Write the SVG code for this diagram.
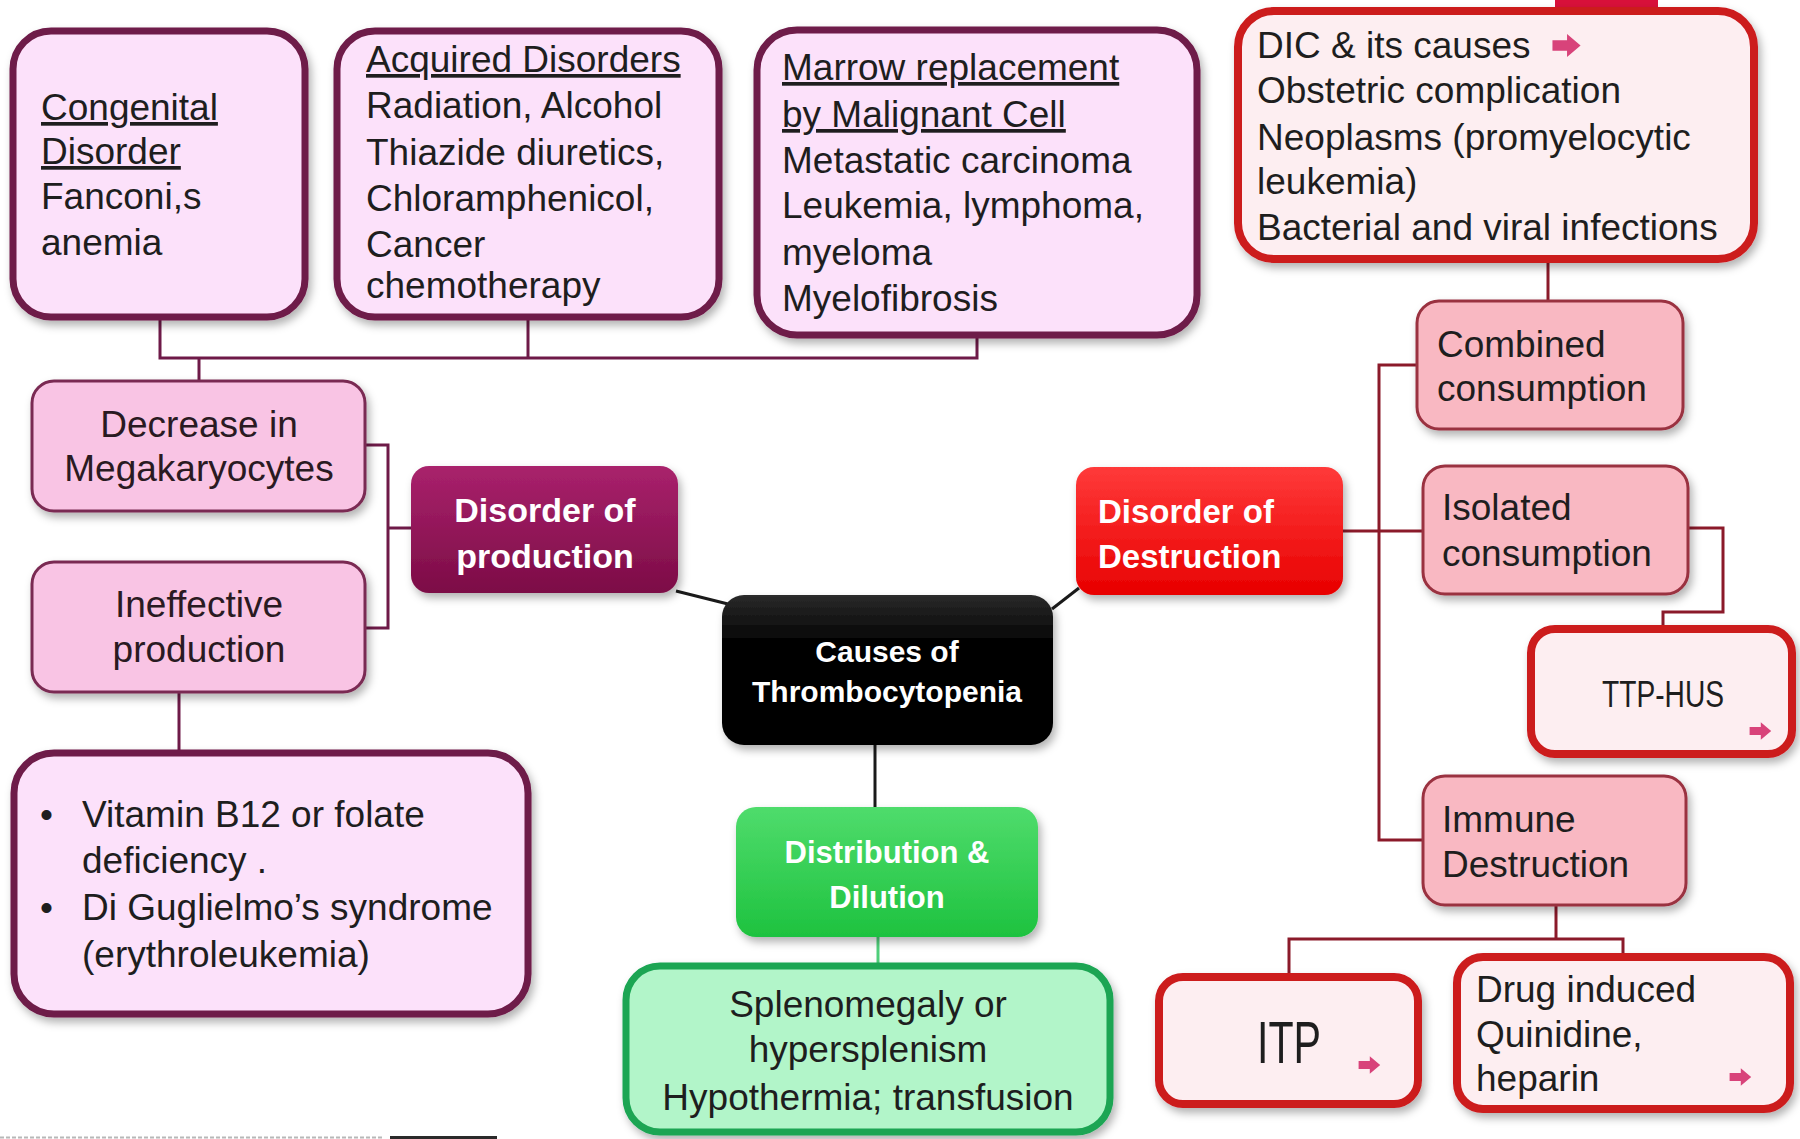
<svg xmlns="http://www.w3.org/2000/svg" width="1800" height="1139" viewBox="0 0 1800 1139">
<defs>
<style>
text{font-family:"Liberation Sans",Arial,sans-serif;}
.t{font-size:37px;fill:#1e1e1e;}
.tc{font-size:37px;fill:#2a1a22;text-anchor:middle;}
.u{text-decoration:underline;}
.w{font-weight:bold;fill:#ffffff;}
.pur{fill:#fce1fa;stroke:#6e1a48;stroke-width:7;}
.pink{fill:#f9c4e4;stroke:#7a2a52;stroke-width:3;}
.rose{fill:#f9b8c2;stroke:#9a3040;stroke-width:3;}
.red{fill:#fdeef1;stroke:#cc1a1e;stroke-width:8;}
.grn{fill:#b2f5c9;stroke:#1aa553;stroke-width:7;}
.cp{fill:none;stroke:#6e1a48;stroke-width:3;}
.cr{fill:none;stroke:#8b1a2a;stroke-width:3;}
.ck{fill:none;stroke:#1a1a1a;stroke-width:3;}
</style>
<linearGradient id="gProd" x1="0" y1="0" x2="0" y2="1"><stop offset="0" stop-color="#a9226c"/><stop offset="1" stop-color="#7c0c46"/></linearGradient>
<linearGradient id="gDest" x1="0" y1="0" x2="0" y2="1"><stop offset="0" stop-color="#ff3a3a"/><stop offset="1" stop-color="#e80000"/></linearGradient>
<linearGradient id="gDist" x1="0" y1="0" x2="0" y2="1"><stop offset="0" stop-color="#4fdc6c"/><stop offset="1" stop-color="#1ec23f"/></linearGradient>
<linearGradient id="gCause" x1="0" y1="0" x2="0" y2="1"><stop offset="0" stop-color="#2a2a2a"/><stop offset="0.3" stop-color="#050505"/><stop offset="1" stop-color="#000000"/></linearGradient>
<filter id="sh" x="-10%" y="-10%" width="125%" height="130%"><feDropShadow dx="3" dy="5" stdDeviation="4" flood-color="#000" flood-opacity="0.3"/></filter>
<symbol id="arr" viewBox="0 0 30 24"><path d="M2 7 H16 V1 L29 12 L16 23 V17 H2 Z" fill="#d8437a"/></symbol>
</defs>
<rect width="1800" height="1139" fill="#ffffff"/>

<g id="connectors">
<path class="cp" d="M160 318 V358 H977 V338"/>
<path class="cp" d="M528 318 V358"/>
<path class="cp" d="M199 358 V381"/>
<path class="cp" d="M365 445 H388 V628 H365"/>
<path class="cp" d="M388 528 H411"/>
<path class="cp" d="M179 692 V753"/>
<path class="ck" d="M676 591 L728 604"/>
<path class="ck" d="M1052 609 L1079 588"/>
<path class="ck" d="M875 745 V807"/>
<path fill="none" stroke="#4fcf7a" stroke-width="3" d="M878 937 V966"/>
<path class="cr" d="M1548 259 V301"/>
<path class="cr" d="M1417 365 H1379 V840 H1423"/>
<path class="cr" d="M1343 531 H1423"/>
<path class="cr" d="M1688 528 H1723 V612 H1663 V629"/>
<path class="cr" d="M1556 905 V939"/>
<path class="cr" d="M1289 977 V939 H1623 V957"/>
</g>

<g id="congenital">
<rect class="pur" x="13" y="31" width="292" height="286" rx="38" filter="url(#sh)"/>
<text class="t u" x="41" y="120">Congenital</text>
<text class="t u" x="41" y="164">Disorder</text>
<text class="t" x="41" y="209">Fanconi,s</text>
<text class="t" x="41" y="255">anemia</text>
</g>

<g id="acquired">
<rect class="pur" x="337" y="31" width="382" height="286" rx="38" filter="url(#sh)"/>
<text class="t u" x="366" y="72">Acquired Disorders</text>
<text class="t" x="366" y="118">Radiation, Alcohol</text>
<text class="t" x="366" y="165">Thiazide diuretics,</text>
<text class="t" x="366" y="211">Chloramphenicol,</text>
<text class="t" x="366" y="257">Cancer</text>
<text class="t" x="366" y="298">chemotherapy</text>
</g>

<g id="marrow">
<rect class="pur" x="757" y="30" width="440" height="305" rx="40" filter="url(#sh)"/>
<text class="t u" x="782" y="80">Marrow replacement</text>
<text class="t u" x="782" y="127">by Malignant Cell</text>
<text class="t" x="782" y="173">Metastatic carcinoma</text>
<text class="t" x="782" y="218">Leukemia, lymphoma,</text>
<text class="t" x="782" y="265">myeloma</text>
<text class="t" x="782" y="311">Myelofibrosis</text>
</g>

<g id="dic">
<rect x="1555" y="0" width="103" height="12" fill="#d8103a"/>
<rect class="red" x="1238" y="11" width="516" height="248" rx="36" filter="url(#sh)"/>
<text class="t" x="1257" y="58">DIC &amp; its causes</text>
<use href="#arr" x="1550" y="33" width="32" height="25"/>
<text class="t" x="1257" y="103">Obstetric complication</text>
<text class="t" x="1257" y="150">Neoplasms (promyelocytic</text>
<text class="t" x="1257" y="194">leukemia)</text>
<text class="t" x="1257" y="240">Bacterial and viral infections</text>
</g>

<g id="decrease">
<rect class="pink" x="32" y="381" width="333" height="130" rx="22" filter="url(#sh)"/>
<text class="tc" x="199" y="437">Decrease in</text>
<text class="tc" x="199" y="481">Megakaryocytes</text>
</g>

<g id="ineffective">
<rect class="pink" x="32" y="562" width="333" height="130" rx="22" filter="url(#sh)"/>
<text class="tc" x="199" y="617">Ineffective</text>
<text class="tc" x="199" y="662">production</text>
</g>

<g id="production">
<rect x="411" y="466" width="267" height="127" rx="18" fill="url(#gProd)" filter="url(#sh)"/>
<text class="w" x="545" y="522" font-size="34" text-anchor="middle">Disorder of</text>
<text class="w" x="545" y="568" font-size="34" text-anchor="middle">production</text>
</g>

<g id="causes">
<rect x="722" y="595" width="331" height="150" rx="22" fill="url(#gCause)" filter="url(#sh)"/>
<text class="w" x="887" y="662" font-size="30" text-anchor="middle">Causes of</text>
<text class="w" x="887" y="702" font-size="30" text-anchor="middle">Thrombocytopenia</text>
</g>

<g id="destruction">
<rect x="1076" y="467" width="267" height="128" rx="18" fill="url(#gDest)" filter="url(#sh)"/>
<text class="w" x="1098" y="523" font-size="33">Disorder of</text>
<text class="w" x="1098" y="568" font-size="33">Destruction</text>
</g>

<g id="combined">
<rect class="rose" x="1417" y="301" width="266" height="128" rx="22" filter="url(#sh)"/>
<text class="t" x="1437" y="357">Combined</text>
<text class="t" x="1437" y="401">consumption</text>
</g>

<g id="isolated">
<rect class="rose" x="1423" y="466" width="265" height="128" rx="22" filter="url(#sh)"/>
<text class="t" x="1442" y="520">Isolated</text>
<text class="t" x="1442" y="566">consumption</text>
</g>

<g id="ttp">
<rect class="red" x="1531" y="629" width="261" height="125" rx="24" filter="url(#sh)"/>
<text class="t" x="1663" y="707" text-anchor="middle" textLength="122" lengthAdjust="spacingAndGlyphs">TTP-HUS</text>
<use href="#arr" x="1748" y="720" width="24" height="22"/>
</g>

<g id="immune">
<rect class="rose" x="1423" y="776" width="263" height="129" rx="22" filter="url(#sh)"/>
<text class="t" x="1442" y="832">Immune</text>
<text class="t" x="1442" y="877">Destruction</text>
</g>

<g id="itp">
<rect class="red" x="1159" y="977" width="259" height="127" rx="24" filter="url(#sh)"/>
<text class="t" x="1257" y="1063" style="font-size:60px" textLength="64" lengthAdjust="spacingAndGlyphs">ITP</text>
<use href="#arr" x="1357" y="1054" width="24" height="22"/>
</g>

<g id="drug">
<rect class="red" x="1457" y="957" width="333" height="152" rx="26" filter="url(#sh)"/>
<text class="t" x="1476" y="1002">Drug induced</text>
<text class="t" x="1476" y="1047">Quinidine,</text>
<text class="t" x="1476" y="1091">heparin</text>
<use href="#arr" x="1728" y="1066" width="24" height="22"/>
</g>

<g id="distribution">
<rect x="736" y="807" width="302" height="130" rx="20" fill="url(#gDist)" filter="url(#sh)"/>
<text class="w" x="887" y="863" font-size="31" text-anchor="middle">Distribution &amp;</text>
<text class="w" x="887" y="908" font-size="31" text-anchor="middle">Dilution</text>
</g>

<g id="splenomegaly">
<rect class="grn" x="626" y="966" width="484" height="166" rx="34" filter="url(#sh)"/>
<text class="tc" x="868" y="1017" style="fill:#1e1e1e">Splenomegaly or</text>
<text class="tc" x="868" y="1062" style="fill:#1e1e1e">hypersplenism</text>
<text class="tc" x="868" y="1110" style="fill:#1e1e1e">Hypothermia; transfusion</text>
</g>

<g id="vitamin">
<rect class="pur" x="14" y="753" width="514" height="261" rx="40" filter="url(#sh)"/>
<text class="t" x="40" y="827">•</text>
<text class="t" x="82" y="827">Vitamin B12 or folate</text>
<text class="t" x="82" y="873">deficiency .</text>
<text class="t" x="40" y="920">•</text>
<text class="t" x="82" y="920">Di Guglielmo’s syndrome</text>
<text class="t" x="82" y="967">(erythroleukemia)</text>
</g>

<line x1="0" y1="1137.5" x2="383" y2="1137.5" stroke="#b8b8b8" stroke-width="2" stroke-dasharray="4 2"/>
<line x1="390" y1="1137.5" x2="497" y2="1137.5" stroke="#2a2a2a" stroke-width="3"/>
</svg>
